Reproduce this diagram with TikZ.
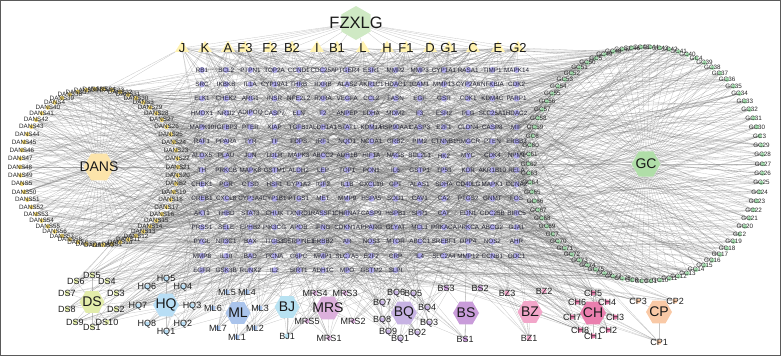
\documentclass[tikz,border=0pt]{standalone}
\usepackage{fontspec}
\setmainfont{Liberation Sans}
\usetikzlibrary{shapes.geometric}
\pgfdeclarelayer{edgelayer}
\pgfsetlayers{edgelayer,main}

\definecolor{edgec}{RGB}{105,105,105}
\definecolor{framec}{RGB}{90,90,90}
\definecolor{genec}{RGB}{172,166,232}
\definecolor{genetxt}{RGB}{35,35,50}
\definecolor{herbc}{RGB}{255,242,176}
\definecolor{fzc}{RGB}{207,233,196}
\definecolor{dansc}{RGB}{252,228,170}
\definecolor{dansdotc}{RGB}{240,214,110}
\definecolor{gcc}{RGB}{176,222,168}
\definecolor{gcdotc}{RGB}{160,215,170}
\definecolor{dsc}{RGB}{226,236,170}
\definecolor{hqc}{RGB}{184,222,245}
\definecolor{mlc}{RGB}{170,196,236}
\definecolor{bjc}{RGB}{184,226,242}
\definecolor{mrsc}{RGB}{220,176,220}
\definecolor{bqc}{RGB}{199,179,227}
\definecolor{bsc}{RGB}{201,156,218}
\definecolor{bzc}{RGB}{242,166,201}
\definecolor{chc}{RGB}{234,127,174}
\definecolor{cpc}{RGB}{249,201,166}

\newcommand\randedges[2]{%
  \foreach \k in {1,...,#2}{%
    \pgfmathrandominteger{\rndrow}{0}{14}%
    \pgfmathrandominteger{\rndcol}{0}{13}%
    \pgfmathtruncatemacro{\rndcolx}{(\rndrow==14)?min(\rndcol,8):\rndcol}%
    \draw[edge] (#1) -- (g-\rndrow-\rndcolx);
  }}
\newcommand\satnodes[2]{%
  \foreach \nm/\xx/\yy in #2 {%
    \node[satdot, fill=#1, label={[satlab]center:\nm}] (\nm) at (\xx,\yy) {};
  }}
\newcommand\satedges[2]{%
  \foreach \nm/\xx/\yy in #2 {%
    \draw[edge] (#1) -- (\nm);
    \randedges{\nm}{7}
  }}

\def\DSlist{DS1/92/327,DS2/116/309,DS3/116/293,DS4/107/281,DS5/92/275,DS6/76/281,DS7/67/293,DS8/67/309,DS9/75/322,DS10/107/322}
\def\HQlist{HQ1/166/332,HQ2/183/324,HQ3/192/306,HQ4/183/287,HQ5/166/279,HQ6/147/287,HQ7/138/306,HQ8/147/324}
\def\MLlist{ML1/237/337,ML2/255/328,ML3/260/308,ML4/247/292,ML5/227/292,ML6/213/308,ML7/218/328}
\def\BJlist{BJ1/287/336}
\def\MRSlist{MRS1/329/338,MRS2/353/321,MRS3/345/293,MRS4/315/293,MRS5/307/321}
\def\BQlist{BQ1/400/339,BQ2/417/333,BQ3/429/323,BQ4/427/308,BQ5/413/294,BQ6/396/293,BQ7/382/303,BQ8/382/320,BQ9/388/332}
\def\BSlist{BS1/465/339,BS2/480/288,BS3/446/288}
\def\BZlist{BZ1/529/338,BZ2/544/291,BZ3/507/293}
\def\CHlist{CH1/593/336,CH2/608/330,CH3/615/317,CH4/607/302,CH5/593/293,CH6/577/302,CH7/572/317,CH8/580/330}
\def\CPlist{CP1/659/342,CP2/675/301,CP3/638/301}
\def\DANSnums{1,10,11,12,13,14,15,16,17,18,19,2,20,21,22,23,24,25,26,27,28,29,3,30,31,32,33,34,35,36,37,38,39,4,40,41,42,43,44,45,46,47,48,49,5,50,51,52,53,54,55,56,57,58,6,7,8,9}
\def\GCnums{1,10,11,12,13,14,15,16,17,18,19,2,20,21,22,23,24,25,26,27,28,29,3,30,31,32,33,34,35,36,37,38,39,4,40,41,42,43,44,45,46,47,48,49,5,50,51,52,53,54,55,56,57,58,59,6,60,61,62,63,64,65,66,67,68,69,7,70,71,72,73,74,75,76,77,78,8,9}
\def\herblist{J/182,K/205,A/228,F3/245,F2/270,B2/292,I/317,B1/337,L/363,H/387,F1/406,D/430,G1/449,C/473,E/498,G2/518}

\begin{document}
\begin{tikzpicture}[x=1pt,y=-1pt,
  edge/.style={draw=edgec, line width=0.3pt, opacity=0.38},
  genedot/.style={circle, fill=genec, minimum size=6pt, inner sep=0pt},
  genelab/.style={font=\fontsize{6.3}{7}\selectfont, text=genetxt, inner sep=0pt},
  ringdot/.style={circle, minimum size=4.5pt, inner sep=0pt},
  ringlab/.style={font=\fontsize{6.3}{7}\selectfont, text=black!85, inner sep=0pt},
  herbtri/.style={isosceles triangle, shape border rotate=90, isosceles triangle apex angle=65, fill=herbc, minimum size=11pt, inner sep=0pt},
  herblab/.style={font=\fontsize{13}{15}\selectfont, text=black!90, inner sep=0pt},
  hubhex/.style={regular polygon, regular polygon sides=6, inner sep=0pt},
  hublab/.style={font=\fontsize{14}{16}\selectfont, text=black!90, inner sep=0pt},
  satdot/.style={circle, minimum size=5pt, inner sep=0pt},
  satlab/.style={font=\fontsize{9}{10}\selectfont, text=black!88, inner sep=0pt}
]
\useasboundingbox (0,0) rectangle (781,356);

% ---------- gene grid ----------
\foreach \lst [count=\r from 0] in {
 {RB1,BCL2,PTPN1,TOP2A,CCND1,CDC25A,PTGER4,ESR1,MMP2,MMP3,CYP1A1,RASA1,TIMP1,MAPK14},
 {SRC,IKBKB,IL1A,CYP19A1,THRB,RXRB,ALAS2,AKR1C1,HDAC1,ICAM1,MMP13,CYP2A6,NFKBIA,CDK2},
 {ELK1,CHEK2,ARG1,INSR,NFE2L2,RXRA,VEGFA,CCL2,FASN,EGF,GSR,CDK1,KDM4C,PARP1},
 {HMOX1,NR1I2,ADIPOQ,CASP7,ELN,F2,ANPEP,LDHA,MDM2,F3,ESR2,PLG,SLC25A1,HDAC2},
 {MAPK10,IGFBP3,PTER,XIAP,TGFB1,ALDH1A1,STAT1,KDM1A,HSP90AA1,CASP3,E2F1,CLDN4,CASP8,MIF},
 {RAF1,PPARA,TYR,TF,FDPS,IRF1,NQO1,NCOA1,GRB2,PIM2,CTNNB1,HMGCR,PTEN,ERBB3},
 {ALOX5,PLAU,JUN,LDLR,MAPK3,ABCC2,ADH1B,HIF1A,NAGS,BCL2L1,HK2,MYC,CDK4,NPM1},
 {TH,PRKCB,MAPK8,GSTM1,ALDH2,LEP,TOP1,PON1,IL6,GSTP1,TP53,KDR,AKR1B10,RELA},
 {CHEK1,PGR,CTSD,HSF1,CYP1A2,IGF2,IL1B,CXCL10,GPT,ALAS1,SDHA,CD40LG,MAPK1,CCNA2},
 {CREB1,CXCL8,CYP3A4,CYP1B1,PTGS1,MET,MMP9,HSPA5,SOD1,CAV1,CA2,PTGS2,GNMT,FOS},
 {AKT1,THBD,STAT3,CHUK,TXNRD1,RASSF1,CHRNA7,CASP9,HSPB1,SPP1,CAT,EDN1,CDC25B,BIRC5},
 {PRSS1,SELE,EPHB2,PIK3CG,APOB,IFNG,CDKN1A,PPARG,GLYAT,MCL1,PRKACA,PRKCA,ABCG2,GJA1},
 {PYGL,NR3C1,BAX,ITGB3,SERPINE1,ERBB2,AR,NOS3,MTOR,ABCC1,SREBF1,DPP4,NOS2,AHR},
 {MMP8,IL10,BAD,PCNA,G6PC,MMP1,SLC7A5,E2F2,CRP,IL4,SLC2A4,MMP12,CCNB1,ODC1},
 {EGFR,GSK3B,RUNX2,IL2,SIRT1,ADH1C,MPO,GSTM2,SLPI}}{
  \foreach \nm [count=\c from 0] in \lst {
    \node[genedot, label={[genelab]center:\nm}] (g-\r-\c) at ({202+24.2*\c},{70+14.3*\r}) {};
  }
}

% ---------- top: FZXLG and herbs ----------
\node[hubhex, fill=fzc, minimum size=34pt, shape border rotate=30, label={[hublab, font=\fontsize{16.5}{18}\selectfont]center:FZXLG}] (FZXLG) at (356,23) {};
\foreach \nm/\xx in \herblist {
  \node[herbtri, label={[herblab]center:\nm}] (h-\nm) at (\xx,48) {};
}

% ---------- DANS ring ----------
\node[hubhex, fill=dansc, minimum size=31pt, label={[hublab]center:DANS}] (DANS) at (99,167) {};
\foreach \n [count=\i from 0] in \DANSnums {
  \pgfmathsetmacro\ang{90+(\i-27.5)*360/58}
  \node[ringdot, fill=dansdotc, label={[ringlab]center:DANS\n}] (dans-\n) at ({99+79*cos(\ang)},{167-78*sin(\ang)}) {};
}

% ---------- GC ring ----------
\node[hubhex, fill=gcc, minimum size=29pt, label={[hublab]center:GC}] (GC) at (646,164) {};
\foreach \n [count=\i from 0] in \GCnums {
  \pgfmathsetmacro\ang{90+(\i-38.5)*360/78}
  \node[ringdot, fill=gcdotc, label={[ringlab]center:GC\n}] (gc-\n) at ({646+117*cos(\ang)},{164-117*sin(\ang)}) {};
}

% ---------- bottom clusters ----------
\node[hubhex, fill=dsc, minimum size=25pt, label={[hublab]center:DS}] (DS) at (92,302) {};
\node[hubhex, fill=hqc, minimum size=26pt, label={[hublab]center:HQ}] (HQ) at (166,305) {};
\node[hubhex, fill=mlc, minimum size=25pt, label={[hublab]center:ML}] (ML) at (238,313) {};
\node[hubhex, fill=bjc, minimum size=25pt, label={[hublab]center:BJ}] (BJ) at (287,307) {};
\node[hubhex, fill=mrsc, minimum size=26pt, label={[hublab]center:MRS}] (MRS) at (328,308) {};
\node[hubhex, fill=bqc, minimum size=26pt, label={[hublab]center:BQ}] (BQ) at (404,313) {};
\node[hubhex, fill=bsc, minimum size=26pt, label={[hublab]center:BS}] (BS) at (466,313) {};
\node[hubhex, fill=bzc, minimum size=25pt, label={[hublab]center:BZ}] (BZ) at (530,312) {};
\node[hubhex, fill=chc, minimum size=26pt, label={[hublab]center:CH}] (CH) at (593,313) {};
\node[hubhex, fill=cpc, minimum size=26pt, label={[hublab]center:CP}] (CP) at (659,312) {};

\satnodes{dsc}{\DSlist}
\satnodes{hqc}{\HQlist}
\satnodes{mlc}{\MLlist}
\satnodes{bjc}{\BJlist}
\satnodes{mrsc}{\MRSlist}
\satnodes{bqc}{\BQlist}
\satnodes{bsc}{\BSlist}
\satnodes{bzc}{\BZlist}
\satnodes{chc}{\CHlist}
\satnodes{cpc}{\CPlist}

% ---------- edges ----------
\begin{pgfonlayer}{edgelayer}
\pgfmathsetseed{20240}
\foreach \nm/\xx in \herblist {
  \draw[edge] (FZXLG) -- (h-\nm);
  \randedges{h-\nm}{14}
  \foreach \k in {1,2}{
    \pgfmathrandominteger{\rgc}{1}{78}
    \draw[edge] (h-\nm) -- (gc-\rgc);
    \pgfmathrandominteger{\rdn}{1}{58}
    \draw[edge] (h-\nm) -- (dans-\rdn);
  }
}
\foreach \n in \DANSnums {
  \draw[edge] (DANS) -- (dans-\n);
  \randedges{dans-\n}{7}
}
\foreach \n in \GCnums {
  \draw[edge] (GC) -- (gc-\n);
  \randedges{gc-\n}{7}
}
\satedges{DS}{\DSlist}
\satedges{HQ}{\HQlist}
\satedges{ML}{\MLlist}
\satedges{BJ}{\BJlist}
\satedges{MRS}{\MRSlist}
\satedges{BQ}{\BQlist}
\satedges{BS}{\BSlist}
\satedges{BZ}{\BZlist}
\satedges{CH}{\CHlist}
\satedges{CP}{\CPlist}
\end{pgfonlayer}

\draw[framec, line width=1.2pt] (0.6,0.6) rectangle (780.4,355.4);
\end{tikzpicture}
\end{document}
